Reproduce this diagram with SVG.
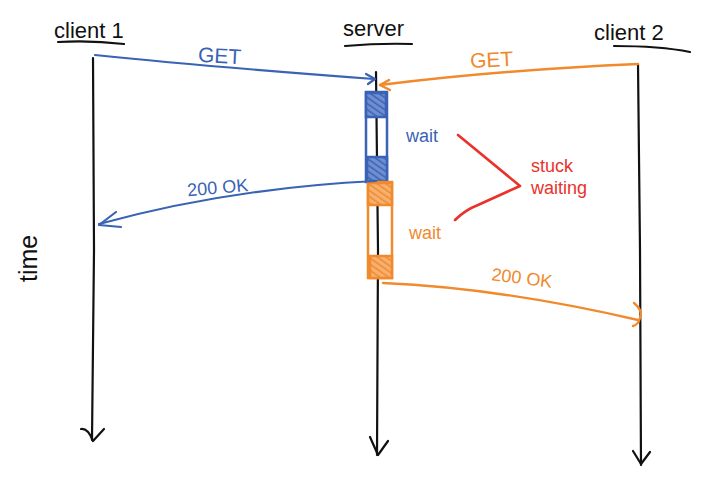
<svg xmlns="http://www.w3.org/2000/svg" width="703" height="483" viewBox="0 0 703 483">
<defs>
<pattern id="hb" width="5" height="5" patternUnits="userSpaceOnUse" patternTransform="rotate(-55)"><rect width="5" height="5" fill="#6f8fd0"/><line x1="0" y1="0" x2="0" y2="5" stroke="#3a62b5" stroke-width="3"/></pattern>
<pattern id="ho" width="5" height="5" patternUnits="userSpaceOnUse" patternTransform="rotate(-55)"><rect width="5" height="5" fill="#f6b070"/><line x1="0" y1="0" x2="0" y2="5" stroke="#f08a2c" stroke-width="3"/></pattern>
</defs>
<style>
.ink{fill:none;stroke:#111;stroke-width:2.2;stroke-linecap:round;stroke-linejoin:round}
.b{fill:none;stroke:#3a62b5;stroke-width:2.2;stroke-linecap:round;stroke-linejoin:round}
.o{fill:none;stroke:#f08a2c;stroke-width:2.4;stroke-linecap:round;stroke-linejoin:round}
.r{fill:none;stroke:#e8322a;stroke-width:2.6;stroke-linecap:round;stroke-linejoin:round}
.t{font-family:"Liberation Sans",Arial,sans-serif}
.lb{fill:#111;font-size:22px}
.bt{fill:#3a62b5}
.ot{fill:#f08a2c}
.rt{fill:#e8322a}
</style>
<rect width="703" height="483" fill="#fff"/>
<g id="client1">
<text class="t lb" x="54" y="38">client 1</text>
<path class="ink" d="M58 42 Q90 40 124 44" stroke-width="3"/>
<path class="ink" d="M93 58 L94 250 L92 440"/>
<path class="ink" d="M81 429 Q88 428 93 441 L104 429"/>
</g>
<g id="server">
<text class="t lb" x="343" y="36">server</text>
<path class="ink" d="M345 46 Q380 43 412 44" stroke-width="3"/>
<path class="ink" d="M376 72 L378 250 L377 455"/>
<path class="ink" d="M370 437 L378 455 L388 441"/>
</g>
<g id="client2">
<text class="t lb" x="594" y="40">client 2</text>
<path class="ink" d="M614 46 Q660 46 690 52" stroke-width="3"/>
<path class="ink" d="M638 64 L640 250 L641 465"/>
<path class="ink" d="M633 451 L641 464 L650 452"/>
</g>
<g id="time">
<text class="t" fill="#111" style="font-size:25px" transform="translate(37,282) rotate(-90)">time</text>
</g>
<g id="activations">
<rect x="366" y="92" width="21" height="90" fill="none" stroke="#3a62b5" stroke-width="2.5"/>
<rect x="366" y="93" width="20" height="24" fill="url(#hb)" stroke="#3a62b5" stroke-width="2.5"/>
<rect x="367" y="157" width="20" height="24" fill="url(#hb)" stroke="#3a62b5" stroke-width="2.5"/>
<rect x="368" y="182" width="24" height="96" fill="none" stroke="#f08a2c" stroke-width="2.5"/>
<rect x="368" y="183" width="24" height="22" fill="url(#ho)" stroke="#f08a2c" stroke-width="2.5"/>
<rect x="370" y="256" width="22" height="22" fill="url(#ho)" stroke="#f08a2c" stroke-width="2.5"/>
</g>
<g id="connectors">
<path class="b" d="M95 55 Q200 66 374 79"/>
<path class="b" d="M366 74 L375 79 L368 84"/>
<path class="o" d="M638 64 Q500 70 380 85"/>
<path class="o" d="M389 80 L380 85 L390 90"/>
<path class="b" d="M376 181 Q230 188 99 224"/>
<path class="b" d="M116 212 L99 225 L121 227"/>
<path class="o" d="M383 283 Q500 288 638 320"/>
<path class="o" d="M634 303 Q643 310 640 318 Q638 325 633 326"/>
<path class="r" d="M458 135 L520 186 L478 205 Q465 210 455 220"/>
</g>
<g id="labels">
<text class="t bt" style="font-size:21px" x="198" y="63" transform="rotate(3 220 57)">GET</text>
<text class="t ot" style="font-size:21px" x="470" y="67" transform="rotate(-3 490 60)">GET</text>
<text class="t bt" style="font-size:18px" x="187" y="193" transform="rotate(-5 225 185)">200  OK</text>
<text class="t ot" style="font-size:18px" x="490" y="285" transform="rotate(7 530 290)">200   OK</text>
<text class="t bt" style="font-size:18px" x="406" y="142">wait</text>
<text class="t ot" style="font-size:18px" x="409" y="239">wait</text>
<text class="t rt" style="font-size:18px" x="531" y="172">stuck</text>
<text class="t rt" style="font-size:18px" x="531" y="194">waiting</text>
</g>
</svg>
